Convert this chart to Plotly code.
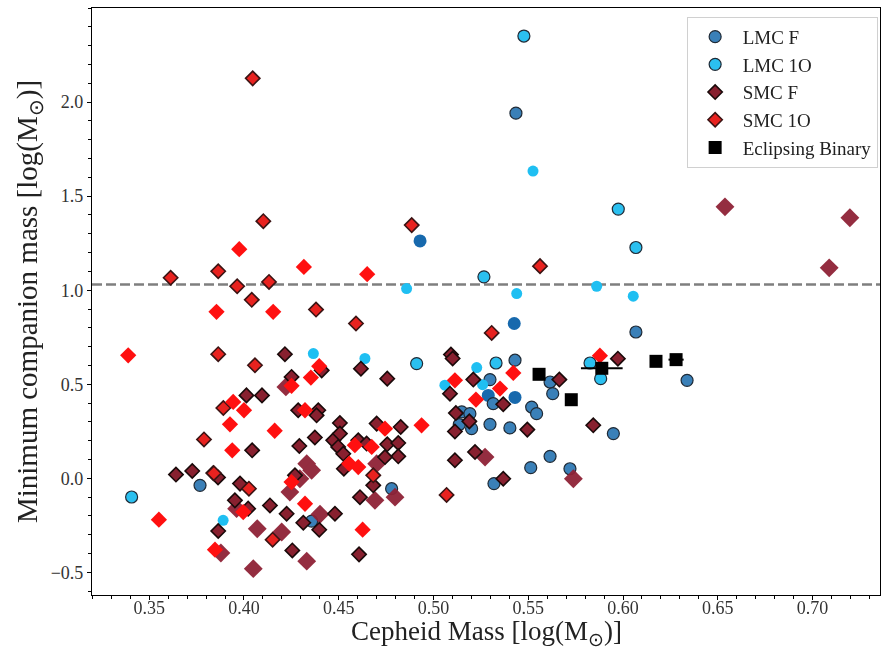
import plotly.graph_objects as go

# ---------------- data: log Cepheid mass vs. minimum companion mass ----------------
# LMC fundamental-mode Cepheids (outlined sample)
lmc_f_x = [0.3768, 0.4779, 0.5435, 0.6068, 0.6338, 0.5430, 0.5298, 0.5315, 0.5518, 0.5544,
           0.5615, 0.5629, 0.5149, 0.5192, 0.5136, 0.5201, 0.5298, 0.5403, 0.5615, 0.5513,
           0.5720, 0.5319, 0.5949, 0.4357]
lmc_f_y = [-0.037, -0.055, 1.941, 0.778, 0.521, 0.628, 0.525, 0.397, 0.379, 0.344,
           0.512, 0.450, 0.353, 0.344, 0.286, 0.264, 0.287, 0.268, 0.117, 0.057,
           0.051, -0.028, 0.238, -0.227]
# LMC fundamental-mode Cepheids (second sample, no outline)
lmc_f_x2 = [0.4929, 0.5426, 0.5289, 0.5430]
lmc_f_y2 = [1.262, 0.823, 0.441, 0.430]

# LMC first-overtone Cepheids
lmc_1o_x = [0.3407, 0.5477, 0.5975, 0.6068, 0.5266, 0.5330, 0.5826, 0.4911, 0.5882]
lmc_1o_y = [-0.099, 2.351, 1.431, 1.227, 1.071, 0.613, 0.613, 0.610, 0.530]
lmc_1o_x2 = [0.3890, 0.4366, 0.4638, 0.5060, 0.5525, 0.5439, 0.4858, 0.5861, 0.6054,
             0.5228, 0.5259]
lmc_1o_y2 = [-0.223, 0.663, 0.637, 0.495, 1.633, 0.982, 1.009, 1.021, 0.968,
             0.589, 0.498]

# SMC fundamental-mode Cepheids
smc_f_x = [0.4216, 0.4013, 0.4095, 0.4251, 0.4043, 0.3641, 0.3727, 0.3838, 0.3863, 0.3979,
           0.3952, 0.4022, 0.3864, 0.4137, 0.4225, 0.4255, 0.4286, 0.4410, 0.4617, 0.4756,
           0.5092, 0.5101, 0.5087, 0.4392, 0.4383, 0.4292, 0.4374, 0.4471, 0.4506, 0.4506,
           0.4497, 0.4524, 0.4603, 0.4647, 0.4700, 0.4827, 0.4756, 0.4814, 0.4814, 0.4744,
           0.4682, 0.4612, 0.4527, 0.4269, 0.4480, 0.5113, 0.5113, 0.4313, 0.4397, 0.4607,
           0.5210, 0.5118, 0.5189, 0.5368, 0.5495, 0.5843, 0.5664, 0.5973, 0.5219, 0.5368]
smc_f_y = [0.660, 0.441, 0.441, 0.539, 0.149, 0.020, 0.039, 0.028, 0.005, -0.028,
           -0.117, -0.161, -0.280, -0.144, -0.188, -0.383, 0.362, 0.574, 0.583, 0.530,
           0.658, 0.637, 0.450, 0.362, 0.335, 0.172, 0.217, 0.202, 0.294, 0.238,
           0.167, 0.131, 0.202, 0.185, 0.291, 0.273, 0.181, 0.188, 0.117, 0.113,
           -0.037, -0.100, 0.051, 0.016, -0.188, 0.096, 0.249, -0.236, -0.273, -0.404,
           0.525, 0.347, 0.303, 0.394, 0.259, 0.282, 0.525, 0.636, 0.140, -0.002]
smc_f_x2 = [0.4221, 0.3961, 0.3878, 0.4049, 0.4070, 0.4199, 0.4700, 0.4691, 0.4797, 0.4331,
            0.4357, 0.4242, 0.4401, 0.4331, 0.5272, 0.5738, 0.6538, 0.7197, 0.7088, 0.4295]
smc_f_y2 = [0.486, -0.161, -0.397, -0.480, -0.268, -0.285, 0.078, -0.117, -0.100, 0.078,
            0.043, -0.073, -0.191, -0.440, 0.113, -0.002, 1.443, 1.385, 1.119, -0.002]

# SMC first-overtone Cepheids
smc_1o_x = [0.4046, 0.4102, 0.4885, 0.3964, 0.4132, 0.4041, 0.3613, 0.3864, 0.3864, 0.4058,
            0.3891, 0.3789, 0.3841, 0.4026, 0.4151, 0.4380, 0.4591, 0.5069, 0.5307, 0.5562,
            0.4682]
smc_1o_y = [2.126, 1.367, 1.346, 1.021, 1.044, 0.949, 1.066, 1.101, 0.660, 0.601,
            0.374, 0.207, 0.027, -0.055, -0.326, 0.897, 0.823, -0.088, 0.773, 1.128,
            0.016]
smc_1o_x2 = [0.3975, 0.4316, 0.4650, 0.3855, 0.4154, 0.3389, 0.3943, 0.4000, 0.3926, 0.4162,
             0.3938, 0.3996, 0.3551, 0.3847, 0.4251, 0.4397, 0.4353, 0.5113, 0.4322, 0.4585,
             0.4674, 0.4744, 0.4937, 0.4555, 0.4603, 0.4251, 0.4322, 0.4626, 0.5421, 0.5351,
             0.5224, 0.5878]
smc_1o_y2 = [1.218, 1.124, 1.085, 0.885, 0.885, 0.654, 0.406, 0.362, 0.287, 0.253,
             0.149, -0.179, -0.220, -0.379, 0.492, 0.596, 0.536, 0.521, 0.362, 0.176,
             0.167, 0.264, 0.282, 0.078, 0.060, -0.020, -0.135, -0.273, 0.560, 0.477,
             0.419, 0.652]

# Eclipsing binaries
eb_x = [0.5557, 0.5727, 0.5888, 0.6174, 0.6280]
eb_y = [0.553, 0.418, 0.585, 0.622, 0.631]
eb_xerr = [0.0, 0.0, 0.011, 0.0, 0.004]

# horizontal reference level
ref_level = 1.03

x_ticks = [0.35, 0.40, 0.45, 0.50, 0.55, 0.60, 0.65, 0.70]
y_ticks = [-0.5, 0.0, 0.5, 1.0, 1.5, 2.0]

FONT = "Liberation Serif"

fig = go.Figure()


def add(x, y, name, symbol, color, size, edge_color=None, edge_width=0.0,
        legend=True, opacity=1.0):
    fig.add_trace(go.Scatter(
        x=x, y=y, mode="markers", name=name, showlegend=legend,
        opacity=opacity,
        marker=dict(symbol=symbol, color=color, size=size,
                    line=dict(color=edge_color or color, width=edge_width)),
    ))


add(lmc_f_x2, lmc_f_y2, "LMC F", "circle", "#1769ad", 13, legend=False)
add(lmc_f_x, lmc_f_y, "LMC F", "circle", "#3a80b8", 12, "#1f2a36", 1.2)
add(lmc_1o_x, lmc_1o_y, "LMC 1O", "circle", "#2bc0f0", 12, "#1f2a36", 1.2)
add(lmc_1o_x2, lmc_1o_y2, "LMC 1O", "circle", "#1fbff2", 11, legend=False)
add(smc_f_x2, smc_f_y2, "SMC F", "diamond", "#8f2236", 14.5, legend=False, opacity=0.95)
add(smc_f_x, smc_f_y, "SMC F", "diamond", "#88202f", 11, "#1a0a0a", 1.6)
add(smc_1o_x, smc_1o_y, "SMC 1O", "diamond", "#e8221f", 11, "#3b1414", 1.6)
add(smc_1o_x2, smc_1o_y2, "SMC 1O", "diamond", "#ff1010", 12.5, legend=False)

fig.add_trace(go.Scatter(
    x=eb_x, y=eb_y, mode="markers", name="Eclipsing Binary",
    marker=dict(symbol="square", color="black", size=13),
    error_x=dict(type="data", array=eb_xerr, color="black", thickness=2, width=0),
))

fig.add_shape(type="line", xref="paper", yref="y", x0=0, x1=1, y0=ref_level, y1=ref_level,
              line=dict(color="#7f7f7f", width=2.5, dash="10px,4px"), layer="below")

axis_common = dict(
    showgrid=False, zeroline=False, showline=True, linecolor="black", linewidth=1.2,
    mirror=True, ticks="outside", ticklen=4, tickwidth=1.1, tickcolor="black",
    tickfont=dict(family=FONT, size=18, color="#333333"),
)

fig.update_xaxes(
    range=[0.3198, 0.7356], tickvals=x_ticks, ticktext=[f"{v:.2f}" for v in x_ticks],
    minor=dict(ticks="outside", ticklen=2.5, dtick=0.01, tick0=0.35, tickcolor="black"),
    ticklabelstandoff=-8, automargin=False,
    **axis_common,
)
fig.update_yaxes(
    range=[-0.62, 2.50], tickvals=y_ticks, ticktext=[f"{v:.1f}".replace("-", "−") for v in y_ticks],
    minor=dict(ticks="outside", ticklen=2.5, dtick=0.1, tick0=0, tickcolor="black"),
    title=dict(text="Minimum companion mass [log(M<sub>⊙</sub>)]",
               font=dict(family=FONT, size=29, color="#222222"), standoff=4),
    **axis_common,
)

# x-axis title placed just under the tick labels
fig.add_annotation(
    text="Cepheid Mass [log(M<sub>⊙</sub>)]", xref="paper", yref="paper",
    x=0.5, y=-0.064, xanchor="center", yanchor="middle", showarrow=False,
    font=dict(family=FONT, size=27, color="#222222"),
)

fig.update_layout(
    width=882, height=656,
    margin=dict(l=92, r=2, t=8, b=61),
    paper_bgcolor="white", plot_bgcolor="white",
    font=dict(family=FONT),
    legend=dict(
        x=0.997, y=0.985, xanchor="right", yanchor="top",
        bgcolor="rgba(255,255,255,0.9)", bordercolor="#d0d0d0", borderwidth=1,
        font=dict(family=FONT, size=19, color="#222222"),
        itemsizing="trace", itemwidth=45, tracegroupgap=0,
    ),
)

fig.write_html("out.html")
